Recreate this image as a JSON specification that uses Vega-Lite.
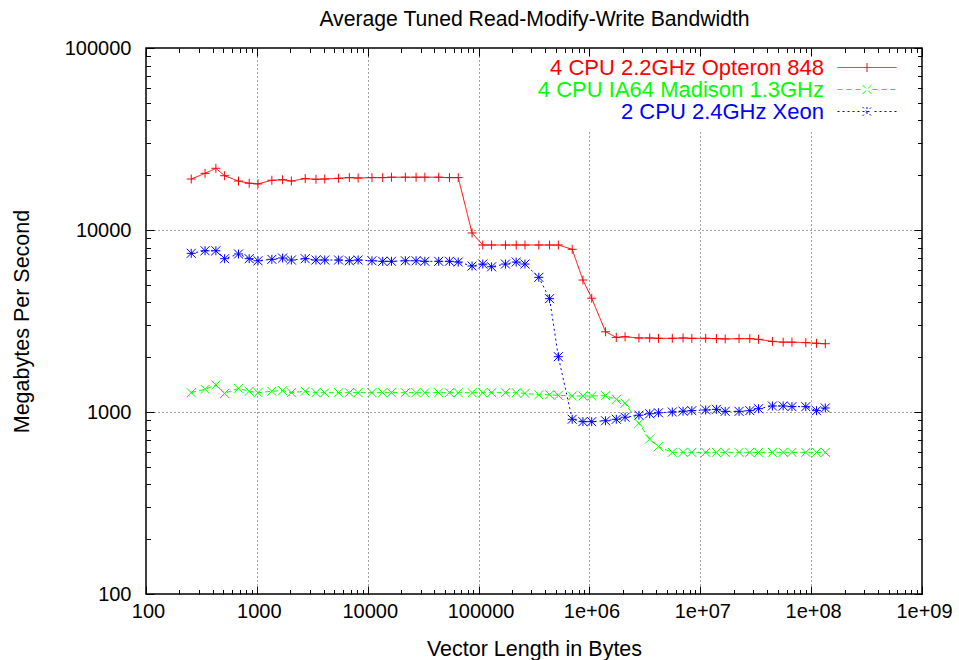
{
  "$schema": "https://vega.github.io/schema/vega-lite/v6.json",
  "width": 776,
  "height": 546,
  "autosize": {"type": "none"},
  "padding": {"left": 146, "top": 48, "right": 37, "bottom": 66},
  "background": "white",
  "config": {
    "font": "Liberation Sans",
    "view": {"stroke": "black", "strokeWidth": 1.5}
  },
  "datasets": {
    "bw": [
      {"series": "4 CPU 2.2GHz Opteron 848", "bytes": 256, "mbps": 19060},
      {"series": "4 CPU 2.2GHz Opteron 848", "bytes": 341, "mbps": 20480},
      {"series": "4 CPU 2.2GHz Opteron 848", "bytes": 427, "mbps": 21830},
      {"series": "4 CPU 2.2GHz Opteron 848", "bytes": 512, "mbps": 19870},
      {"series": "4 CPU 2.2GHz Opteron 848", "bytes": 683, "mbps": 18580},
      {"series": "4 CPU 2.2GHz Opteron 848", "bytes": 853, "mbps": 18070},
      {"series": "4 CPU 2.2GHz Opteron 848", "bytes": 1024, "mbps": 17920},
      {"series": "4 CPU 2.2GHz Opteron 848", "bytes": 1365, "mbps": 18760},
      {"series": "4 CPU 2.2GHz Opteron 848", "bytes": 1707, "mbps": 18880},
      {"series": "4 CPU 2.2GHz Opteron 848", "bytes": 2048, "mbps": 18580},
      {"series": "4 CPU 2.2GHz Opteron 848", "bytes": 2731, "mbps": 19150},
      {"series": "4 CPU 2.2GHz Opteron 848", "bytes": 3413, "mbps": 19000},
      {"series": "4 CPU 2.2GHz Opteron 848", "bytes": 4096, "mbps": 19060},
      {"series": "4 CPU 2.2GHz Opteron 848", "bytes": 5461, "mbps": 19240},
      {"series": "4 CPU 2.2GHz Opteron 848", "bytes": 6827, "mbps": 19400},
      {"series": "4 CPU 2.2GHz Opteron 848", "bytes": 8192, "mbps": 19300},
      {"series": "4 CPU 2.2GHz Opteron 848", "bytes": 10923, "mbps": 19400},
      {"series": "4 CPU 2.2GHz Opteron 848", "bytes": 13653, "mbps": 19400},
      {"series": "4 CPU 2.2GHz Opteron 848", "bytes": 16384, "mbps": 19500},
      {"series": "4 CPU 2.2GHz Opteron 848", "bytes": 21845, "mbps": 19500},
      {"series": "4 CPU 2.2GHz Opteron 848", "bytes": 27307, "mbps": 19500},
      {"series": "4 CPU 2.2GHz Opteron 848", "bytes": 32768, "mbps": 19500},
      {"series": "4 CPU 2.2GHz Opteron 848", "bytes": 43691, "mbps": 19500},
      {"series": "4 CPU 2.2GHz Opteron 848", "bytes": 54613, "mbps": 19400},
      {"series": "4 CPU 2.2GHz Opteron 848", "bytes": 65536, "mbps": 19400},
      {"series": "4 CPU 2.2GHz Opteron 848", "bytes": 87381, "mbps": 9630},
      {"series": "4 CPU 2.2GHz Opteron 848", "bytes": 109227, "mbps": 8270},
      {"series": "4 CPU 2.2GHz Opteron 848", "bytes": 131072, "mbps": 8270},
      {"series": "4 CPU 2.2GHz Opteron 848", "bytes": 174763, "mbps": 8270},
      {"series": "4 CPU 2.2GHz Opteron 848", "bytes": 218453, "mbps": 8270},
      {"series": "4 CPU 2.2GHz Opteron 848", "bytes": 262144, "mbps": 8270},
      {"series": "4 CPU 2.2GHz Opteron 848", "bytes": 349525, "mbps": 8270},
      {"series": "4 CPU 2.2GHz Opteron 848", "bytes": 436907, "mbps": 8270},
      {"series": "4 CPU 2.2GHz Opteron 848", "bytes": 524288, "mbps": 8270},
      {"series": "4 CPU 2.2GHz Opteron 848", "bytes": 699051, "mbps": 7830},
      {"series": "4 CPU 2.2GHz Opteron 848", "bytes": 873813, "mbps": 5310},
      {"series": "4 CPU 2.2GHz Opteron 848", "bytes": 1048576, "mbps": 4220},
      {"series": "4 CPU 2.2GHz Opteron 848", "bytes": 1398101, "mbps": 2760},
      {"series": "4 CPU 2.2GHz Opteron 848", "bytes": 1747627, "mbps": 2570},
      {"series": "4 CPU 2.2GHz Opteron 848", "bytes": 2097152, "mbps": 2590},
      {"series": "4 CPU 2.2GHz Opteron 848", "bytes": 2796203, "mbps": 2551},
      {"series": "4 CPU 2.2GHz Opteron 848", "bytes": 3495253, "mbps": 2551},
      {"series": "4 CPU 2.2GHz Opteron 848", "bytes": 4194304, "mbps": 2540},
      {"series": "4 CPU 2.2GHz Opteron 848", "bytes": 5592405, "mbps": 2540},
      {"series": "4 CPU 2.2GHz Opteron 848", "bytes": 6990507, "mbps": 2551},
      {"series": "4 CPU 2.2GHz Opteron 848", "bytes": 8388608, "mbps": 2540},
      {"series": "4 CPU 2.2GHz Opteron 848", "bytes": 11184811, "mbps": 2540},
      {"series": "4 CPU 2.2GHz Opteron 848", "bytes": 13981013, "mbps": 2530},
      {"series": "4 CPU 2.2GHz Opteron 848", "bytes": 16777216, "mbps": 2520},
      {"series": "4 CPU 2.2GHz Opteron 848", "bytes": 22369621, "mbps": 2530},
      {"series": "4 CPU 2.2GHz Opteron 848", "bytes": 27962027, "mbps": 2530},
      {"series": "4 CPU 2.2GHz Opteron 848", "bytes": 33554432, "mbps": 2507},
      {"series": "4 CPU 2.2GHz Opteron 848", "bytes": 44739243, "mbps": 2443},
      {"series": "4 CPU 2.2GHz Opteron 848", "bytes": 55924053, "mbps": 2420},
      {"series": "4 CPU 2.2GHz Opteron 848", "bytes": 67108864, "mbps": 2420},
      {"series": "4 CPU 2.2GHz Opteron 848", "bytes": 89478485, "mbps": 2405},
      {"series": "4 CPU 2.2GHz Opteron 848", "bytes": 111848107, "mbps": 2385},
      {"series": "4 CPU 2.2GHz Opteron 848", "bytes": 134217728, "mbps": 2372},

      {"series": "4 CPU IA64 Madison 1.3GHz", "bytes": 256, "mbps": 1277},
      {"series": "4 CPU IA64 Madison 1.3GHz", "bytes": 341, "mbps": 1333},
      {"series": "4 CPU IA64 Madison 1.3GHz", "bytes": 427, "mbps": 1407},
      {"series": "4 CPU IA64 Madison 1.3GHz", "bytes": 512, "mbps": 1265},
      {"series": "4 CPU IA64 Madison 1.3GHz", "bytes": 683, "mbps": 1349},
      {"series": "4 CPU IA64 Madison 1.3GHz", "bytes": 853, "mbps": 1300},
      {"series": "4 CPU IA64 Madison 1.3GHz", "bytes": 1024, "mbps": 1277},
      {"series": "4 CPU IA64 Madison 1.3GHz", "bytes": 1365, "mbps": 1300},
      {"series": "4 CPU IA64 Madison 1.3GHz", "bytes": 1707, "mbps": 1310},
      {"series": "4 CPU IA64 Madison 1.3GHz", "bytes": 2048, "mbps": 1277},
      {"series": "4 CPU IA64 Madison 1.3GHz", "bytes": 2731, "mbps": 1300},
      {"series": "4 CPU IA64 Madison 1.3GHz", "bytes": 3413, "mbps": 1277},
      {"series": "4 CPU IA64 Madison 1.3GHz", "bytes": 4096, "mbps": 1277},
      {"series": "4 CPU IA64 Madison 1.3GHz", "bytes": 5461, "mbps": 1277},
      {"series": "4 CPU IA64 Madison 1.3GHz", "bytes": 6827, "mbps": 1277},
      {"series": "4 CPU IA64 Madison 1.3GHz", "bytes": 8192, "mbps": 1277},
      {"series": "4 CPU IA64 Madison 1.3GHz", "bytes": 10923, "mbps": 1277},
      {"series": "4 CPU IA64 Madison 1.3GHz", "bytes": 13653, "mbps": 1277},
      {"series": "4 CPU IA64 Madison 1.3GHz", "bytes": 16384, "mbps": 1277},
      {"series": "4 CPU IA64 Madison 1.3GHz", "bytes": 21845, "mbps": 1277},
      {"series": "4 CPU IA64 Madison 1.3GHz", "bytes": 27307, "mbps": 1277},
      {"series": "4 CPU IA64 Madison 1.3GHz", "bytes": 32768, "mbps": 1277},
      {"series": "4 CPU IA64 Madison 1.3GHz", "bytes": 43691, "mbps": 1277},
      {"series": "4 CPU IA64 Madison 1.3GHz", "bytes": 54613, "mbps": 1277},
      {"series": "4 CPU IA64 Madison 1.3GHz", "bytes": 65536, "mbps": 1277},
      {"series": "4 CPU IA64 Madison 1.3GHz", "bytes": 87381, "mbps": 1277},
      {"series": "4 CPU IA64 Madison 1.3GHz", "bytes": 109227, "mbps": 1277},
      {"series": "4 CPU IA64 Madison 1.3GHz", "bytes": 131072, "mbps": 1277},
      {"series": "4 CPU IA64 Madison 1.3GHz", "bytes": 174763, "mbps": 1277},
      {"series": "4 CPU IA64 Madison 1.3GHz", "bytes": 218453, "mbps": 1277},
      {"series": "4 CPU IA64 Madison 1.3GHz", "bytes": 262144, "mbps": 1265},
      {"series": "4 CPU IA64 Madison 1.3GHz", "bytes": 349525, "mbps": 1244},
      {"series": "4 CPU IA64 Madison 1.3GHz", "bytes": 436907, "mbps": 1244},
      {"series": "4 CPU IA64 Madison 1.3GHz", "bytes": 524288, "mbps": 1235},
      {"series": "4 CPU IA64 Madison 1.3GHz", "bytes": 699051, "mbps": 1225},
      {"series": "4 CPU IA64 Madison 1.3GHz", "bytes": 873813, "mbps": 1225},
      {"series": "4 CPU IA64 Madison 1.3GHz", "bytes": 1048576, "mbps": 1225},
      {"series": "4 CPU IA64 Madison 1.3GHz", "bytes": 1398101, "mbps": 1230},
      {"series": "4 CPU IA64 Madison 1.3GHz", "bytes": 1747627, "mbps": 1172},
      {"series": "4 CPU IA64 Madison 1.3GHz", "bytes": 2097152, "mbps": 1117},
      {"series": "4 CPU IA64 Madison 1.3GHz", "bytes": 2796203, "mbps": 866},
      {"series": "4 CPU IA64 Madison 1.3GHz", "bytes": 3495253, "mbps": 710},
      {"series": "4 CPU IA64 Madison 1.3GHz", "bytes": 4194304, "mbps": 645},
      {"series": "4 CPU IA64 Madison 1.3GHz", "bytes": 5592405, "mbps": 600},
      {"series": "4 CPU IA64 Madison 1.3GHz", "bytes": 6990507, "mbps": 600},
      {"series": "4 CPU IA64 Madison 1.3GHz", "bytes": 8388608, "mbps": 600},
      {"series": "4 CPU IA64 Madison 1.3GHz", "bytes": 11184811, "mbps": 600},
      {"series": "4 CPU IA64 Madison 1.3GHz", "bytes": 13981013, "mbps": 600},
      {"series": "4 CPU IA64 Madison 1.3GHz", "bytes": 16777216, "mbps": 600},
      {"series": "4 CPU IA64 Madison 1.3GHz", "bytes": 22369621, "mbps": 600},
      {"series": "4 CPU IA64 Madison 1.3GHz", "bytes": 27962027, "mbps": 600},
      {"series": "4 CPU IA64 Madison 1.3GHz", "bytes": 33554432, "mbps": 600},
      {"series": "4 CPU IA64 Madison 1.3GHz", "bytes": 44739243, "mbps": 600},
      {"series": "4 CPU IA64 Madison 1.3GHz", "bytes": 55924053, "mbps": 600},
      {"series": "4 CPU IA64 Madison 1.3GHz", "bytes": 67108864, "mbps": 600},
      {"series": "4 CPU IA64 Madison 1.3GHz", "bytes": 89478485, "mbps": 600},
      {"series": "4 CPU IA64 Madison 1.3GHz", "bytes": 111848107, "mbps": 600},
      {"series": "4 CPU IA64 Madison 1.3GHz", "bytes": 134217728, "mbps": 600},

      {"series": "2 CPU 2.4GHz Xeon", "bytes": 256, "mbps": 7445},
      {"series": "2 CPU 2.4GHz Xeon", "bytes": 341, "mbps": 7690},
      {"series": "2 CPU 2.4GHz Xeon", "bytes": 427, "mbps": 7690},
      {"series": "2 CPU 2.4GHz Xeon", "bytes": 512, "mbps": 6955},
      {"series": "2 CPU 2.4GHz Xeon", "bytes": 683, "mbps": 7380},
      {"series": "2 CPU 2.4GHz Xeon", "bytes": 853, "mbps": 6955},
      {"series": "2 CPU 2.4GHz Xeon", "bytes": 1024, "mbps": 6775},
      {"series": "2 CPU 2.4GHz Xeon", "bytes": 1365, "mbps": 6900},
      {"series": "2 CPU 2.4GHz Xeon", "bytes": 1707, "mbps": 7015},
      {"series": "2 CPU 2.4GHz Xeon", "bytes": 2048, "mbps": 6840},
      {"series": "2 CPU 2.4GHz Xeon", "bytes": 2731, "mbps": 6955},
      {"series": "2 CPU 2.4GHz Xeon", "bytes": 3413, "mbps": 6840},
      {"series": "2 CPU 2.4GHz Xeon", "bytes": 4096, "mbps": 6840},
      {"series": "2 CPU 2.4GHz Xeon", "bytes": 5461, "mbps": 6840},
      {"series": "2 CPU 2.4GHz Xeon", "bytes": 6827, "mbps": 6775},
      {"series": "2 CPU 2.4GHz Xeon", "bytes": 8192, "mbps": 6840},
      {"series": "2 CPU 2.4GHz Xeon", "bytes": 10923, "mbps": 6775},
      {"series": "2 CPU 2.4GHz Xeon", "bytes": 13653, "mbps": 6730},
      {"series": "2 CPU 2.4GHz Xeon", "bytes": 16384, "mbps": 6730},
      {"series": "2 CPU 2.4GHz Xeon", "bytes": 21845, "mbps": 6775},
      {"series": "2 CPU 2.4GHz Xeon", "bytes": 27307, "mbps": 6775},
      {"series": "2 CPU 2.4GHz Xeon", "bytes": 32768, "mbps": 6730},
      {"series": "2 CPU 2.4GHz Xeon", "bytes": 43691, "mbps": 6730},
      {"series": "2 CPU 2.4GHz Xeon", "bytes": 54613, "mbps": 6730},
      {"series": "2 CPU 2.4GHz Xeon", "bytes": 65536, "mbps": 6670},
      {"series": "2 CPU 2.4GHz Xeon", "bytes": 87381, "mbps": 6340},
      {"series": "2 CPU 2.4GHz Xeon", "bytes": 109227, "mbps": 6500},
      {"series": "2 CPU 2.4GHz Xeon", "bytes": 131072, "mbps": 6280},
      {"series": "2 CPU 2.4GHz Xeon", "bytes": 174763, "mbps": 6500},
      {"series": "2 CPU 2.4GHz Xeon", "bytes": 218453, "mbps": 6670},
      {"series": "2 CPU 2.4GHz Xeon", "bytes": 262144, "mbps": 6500},
      {"series": "2 CPU 2.4GHz Xeon", "bytes": 349525, "mbps": 5495},
      {"series": "2 CPU 2.4GHz Xeon", "bytes": 436907, "mbps": 4195},
      {"series": "2 CPU 2.4GHz Xeon", "bytes": 524288, "mbps": 2013},
      {"series": "2 CPU 2.4GHz Xeon", "bytes": 699051, "mbps": 912},
      {"series": "2 CPU 2.4GHz Xeon", "bytes": 873813, "mbps": 885},
      {"series": "2 CPU 2.4GHz Xeon", "bytes": 1048576, "mbps": 885},
      {"series": "2 CPU 2.4GHz Xeon", "bytes": 1398101, "mbps": 895},
      {"series": "2 CPU 2.4GHz Xeon", "bytes": 1747627, "mbps": 912},
      {"series": "2 CPU 2.4GHz Xeon", "bytes": 2097152, "mbps": 936},
      {"series": "2 CPU 2.4GHz Xeon", "bytes": 2796203, "mbps": 960},
      {"series": "2 CPU 2.4GHz Xeon", "bytes": 3495253, "mbps": 978},
      {"series": "2 CPU 2.4GHz Xeon", "bytes": 4194304, "mbps": 990},
      {"series": "2 CPU 2.4GHz Xeon", "bytes": 5592405, "mbps": 1000},
      {"series": "2 CPU 2.4GHz Xeon", "bytes": 6990507, "mbps": 1010},
      {"series": "2 CPU 2.4GHz Xeon", "bytes": 8388608, "mbps": 1017},
      {"series": "2 CPU 2.4GHz Xeon", "bytes": 11184811, "mbps": 1026},
      {"series": "2 CPU 2.4GHz Xeon", "bytes": 13981013, "mbps": 1034},
      {"series": "2 CPU 2.4GHz Xeon", "bytes": 16777216, "mbps": 1008},
      {"series": "2 CPU 2.4GHz Xeon", "bytes": 22369621, "mbps": 1008},
      {"series": "2 CPU 2.4GHz Xeon", "bytes": 27962027, "mbps": 1017},
      {"series": "2 CPU 2.4GHz Xeon", "bytes": 33554432, "mbps": 1043},
      {"series": "2 CPU 2.4GHz Xeon", "bytes": 44739243, "mbps": 1079},
      {"series": "2 CPU 2.4GHz Xeon", "bytes": 55924053, "mbps": 1079},
      {"series": "2 CPU 2.4GHz Xeon", "bytes": 67108864, "mbps": 1070},
      {"series": "2 CPU 2.4GHz Xeon", "bytes": 89478485, "mbps": 1070},
      {"series": "2 CPU 2.4GHz Xeon", "bytes": 111848107, "mbps": 1017},
      {"series": "2 CPU 2.4GHz Xeon", "bytes": 134217728, "mbps": 1052}
    ]
  },
  "data": {"name": "bw"},
  "encoding": {
    "color": {
      "field": "series",
      "type": "nominal",
      "scale": {"domain": ["4 CPU 2.2GHz Opteron 848", "4 CPU IA64 Madison 1.3GHz", "2 CPU 2.4GHz Xeon"], "range": ["#ff0000", "#00ff00", "#0000ff"]},
      "legend": {
        "title": null,
        "orient": "none",
        "legendX": 384.5,
        "legendY": 1,
        "padding": 7.5,
        "rowPadding": 0,
        "zindex": 1,
        "labelAlign": "right",
        "labelBaseline": "middle",
        "labelOffset": -54,
        "labelFontSize": 22,
        "labelFont": "Liberation Sans",
        "labelLimit": 1000,
        "labelColor": {"expr": "scale('color', datum.value)"},
        "symbolSize": 81,
        "symbolOffset": 318,
        "symbolStrokeWidth": 1,
        "symbolOpacity": 1,
        "symbolFillColor": "transparent",
        "symbolDash": [1, 0],
        "symbolType": {"expr": "datum.value === '4 CPU 2.2GHz Opteron 848' ? 'M-6.556,0H6.556M0,-1V1' : datum.value === '4 CPU IA64 Madison 1.3GHz' ? 'M-6.556,0H-5.222M-4.556,0H-3.222M-2.556,0H-1.222M1.222,0H2.556M3.222,0H4.556M5.222,0H6.556M-1,-1L1,1M-1,1L1,-1' : 'M-6.556,0H-6.111M-5.444,0H-5M-4.333,0H-3.889M-3.222,0H-2.778M-2.111,0H-1.667M1.667,0H2.111M2.778,0H3.222M3.889,0H4.333M5,0H5.444M6.111,0H6.556M-1,0H1M0,-1V1M-1,-1L1,1M-1,1L1,-1'"},
        "fillColor": "white"
      }
    }
  },
  "layer": [
    {
      "mark": {"type": "line", "strokeWidth": 1},
      "encoding": {
        "x": {
          "field": "bytes",
          "type": "quantitative",
          "scale": {"type": "log", "domain": [100, 1000000000], "nice": false},
          "axis": {
            "orient": "bottom",
            "zindex": 0,
            "values": [100,200,300,400,500,600,700,800,900,1000,2000,3000,4000,5000,6000,7000,8000,9000,10000,20000,30000,40000,50000,60000,70000,80000,90000,100000,200000,300000,400000,500000,600000,700000,800000,900000,1000000,2000000,3000000,4000000,5000000,6000000,7000000,8000000,9000000,10000000,20000000,30000000,40000000,50000000,60000000,70000000,80000000,90000000,100000000,200000000,300000000,400000000,500000000,600000000,700000000,800000000,900000000,1000000000],
            "labelExpr": "abs(log(datum.value)/LN10 - round(log(datum.value)/LN10)) < 0.000001 ? (datum.value < 1000000 ? format(datum.value, 'd') : '1e+0' + round(log(datum.value)/LN10)) : ''",
            "labelFontSize": 20,
            "labelColor": "black",
            "labelFont": "Liberation Sans",
            "labelPadding": 15,
            "labelOffset": 2,
            "labelOverlap": false,
            "labelFlush": false,
            "labelBound": false,
            "tickSize": {"condition": {"test": "abs(log(datum.value)/LN10 - round(log(datum.value)/LN10)) < 0.000001", "value": -8}, "value": -4.5},
            "tickColor": "black",
            "tickWidth": 1,
            "domain": false,
            "grid": true,
            "gridOpacity": {"condition": {"test": "abs(log(datum.value)/LN10 - round(log(datum.value)/LN10)) < 0.000001", "value": 1}, "value": 0},
            "gridColor": "#444444",
            "gridDash": [1, 3],
            "gridWidth": 1,
            "title": "Vector Length in Bytes",
            "titleFontSize": 21.5,
            "titleFontWeight": "normal",
            "titleFont": "Liberation Sans",
            "titleColor": "black",
            "titleBaseline": "alphabetic",
            "titleY": 61
          }
        },
        "y": {
          "field": "mbps",
          "type": "quantitative",
          "scale": {"type": "log", "domain": [100, 100000], "nice": false},
          "axis": {
            "orient": "left",
            "zindex": 0,
            "values": [100,200,300,400,500,600,700,800,900,1000,2000,3000,4000,5000,6000,7000,8000,9000,10000,20000,30000,40000,50000,60000,70000,80000,90000,100000],
            "labelExpr": "abs(log(datum.value)/LN10 - round(log(datum.value)/LN10)) < 0.000001 ? format(datum.value, 'd') : ''",
            "labelFontSize": 20,
            "labelColor": "black",
            "labelFont": "Liberation Sans",
            "labelPadding": 23,
            "labelOverlap": false,
            "labelFlush": false,
            "labelBound": false,
            "tickSize": {"condition": {"test": "abs(log(datum.value)/LN10 - round(log(datum.value)/LN10)) < 0.000001", "value": -8}, "value": -4.5},
            "tickColor": "black",
            "tickWidth": 1,
            "domain": false,
            "grid": true,
            "gridOpacity": {"condition": {"test": "abs(log(datum.value)/LN10 - round(log(datum.value)/LN10)) < 0.000001", "value": 1}, "value": 0},
            "gridColor": "#444444",
            "gridDash": [1, 3],
            "gridWidth": 1,
            "title": "Megabytes Per Second",
            "titleFontSize": 21.5,
            "titleFontWeight": "normal",
            "titleFont": "Liberation Sans",
            "titleColor": "black",
            "titleBaseline": "alphabetic",
            "titleAngle": 270,
            "titleX": -118
          }
        },
        "strokeDash": {
          "field": "series",
          "type": "nominal",
          "scale": {"domain": ["4 CPU 2.2GHz Opteron 848", "4 CPU IA64 Madison 1.3GHz", "2 CPU 2.4GHz Xeon"], "range": [[1, 0], [5, 3], [2, 3]]},
          "legend": null
        }
      }
    },
    {
      "transform": [{"filter": {"field": "series", "equal": "4 CPU 2.2GHz Opteron 848"}}],
      "mark": {"type": "point", "shape": "M-1,0H1M0,-1V1", "filled": false, "size": 81, "strokeWidth": 1, "opacity": 1},
      "encoding": {
        "x": {
          "field": "bytes",
          "type": "quantitative",
          "axis": {
            "orient": "top",
            "zindex": 2,
            "values": [100,200,300,400,500,600,700,800,900,1000,2000,3000,4000,5000,6000,7000,8000,9000,10000,20000,30000,40000,50000,60000,70000,80000,90000,100000,200000,300000,400000,500000,600000,700000,800000,900000,1000000,2000000,3000000,4000000,5000000,6000000,7000000,8000000,9000000,10000000,20000000,30000000,40000000,50000000,60000000,70000000,80000000,90000000,100000000,200000000,300000000,400000000,500000000,600000000,700000000,800000000,900000000,1000000000],
            "labels": false,
            "domain": false,
            "grid": false,
            "tickSize": {"condition": {"test": "abs(log(datum.value)/LN10 - round(log(datum.value)/LN10)) < 0.000001", "value": -8}, "value": -4.5},
            "tickColor": "black",
            "tickWidth": 1,
            "title": "Average Tuned Read-Modify-Write Bandwidth",
            "titleFontSize": 21.2,
            "titleFontWeight": "normal",
            "titleFont": "Liberation Sans",
            "titleColor": "black",
            "titleBaseline": "alphabetic",
            "titleY": -23
          }
        },
        "y": {
          "field": "mbps",
          "type": "quantitative",
          "axis": {
            "orient": "right",
            "zindex": 2,
            "values": [100,200,300,400,500,600,700,800,900,1000,2000,3000,4000,5000,6000,7000,8000,9000,10000,20000,30000,40000,50000,60000,70000,80000,90000,100000],
            "labels": false,
            "domain": false,
            "grid": false,
            "tickSize": {"condition": {"test": "abs(log(datum.value)/LN10 - round(log(datum.value)/LN10)) < 0.000001", "value": -8}, "value": -4.5},
            "tickColor": "black",
            "tickWidth": 1,
            "title": null
          }
        }
      }
    },
    {
      "transform": [{"filter": {"field": "series", "equal": "4 CPU IA64 Madison 1.3GHz"}}],
      "mark": {"type": "point", "shape": "M-1,-1L1,1M-1,1L1,-1", "filled": false, "size": 81, "strokeWidth": 1, "opacity": 1},
      "encoding": {
        "x": {"field": "bytes", "type": "quantitative", "axis": null},
        "y": {"field": "mbps", "type": "quantitative", "axis": null}
      }
    },
    {
      "transform": [{"filter": {"field": "series", "equal": "2 CPU 2.4GHz Xeon"}}],
      "mark": {"type": "point", "shape": "M-1,0H1M0,-1V1M-1,-1L1,1M-1,1L1,-1", "filled": false, "size": 81, "strokeWidth": 1, "opacity": 1},
      "encoding": {
        "x": {"field": "bytes", "type": "quantitative", "axis": null},
        "y": {"field": "mbps", "type": "quantitative", "axis": null}
      }
    }
  ],
  "resolve": {"axis": {"x": "independent", "y": "independent"}}
}
